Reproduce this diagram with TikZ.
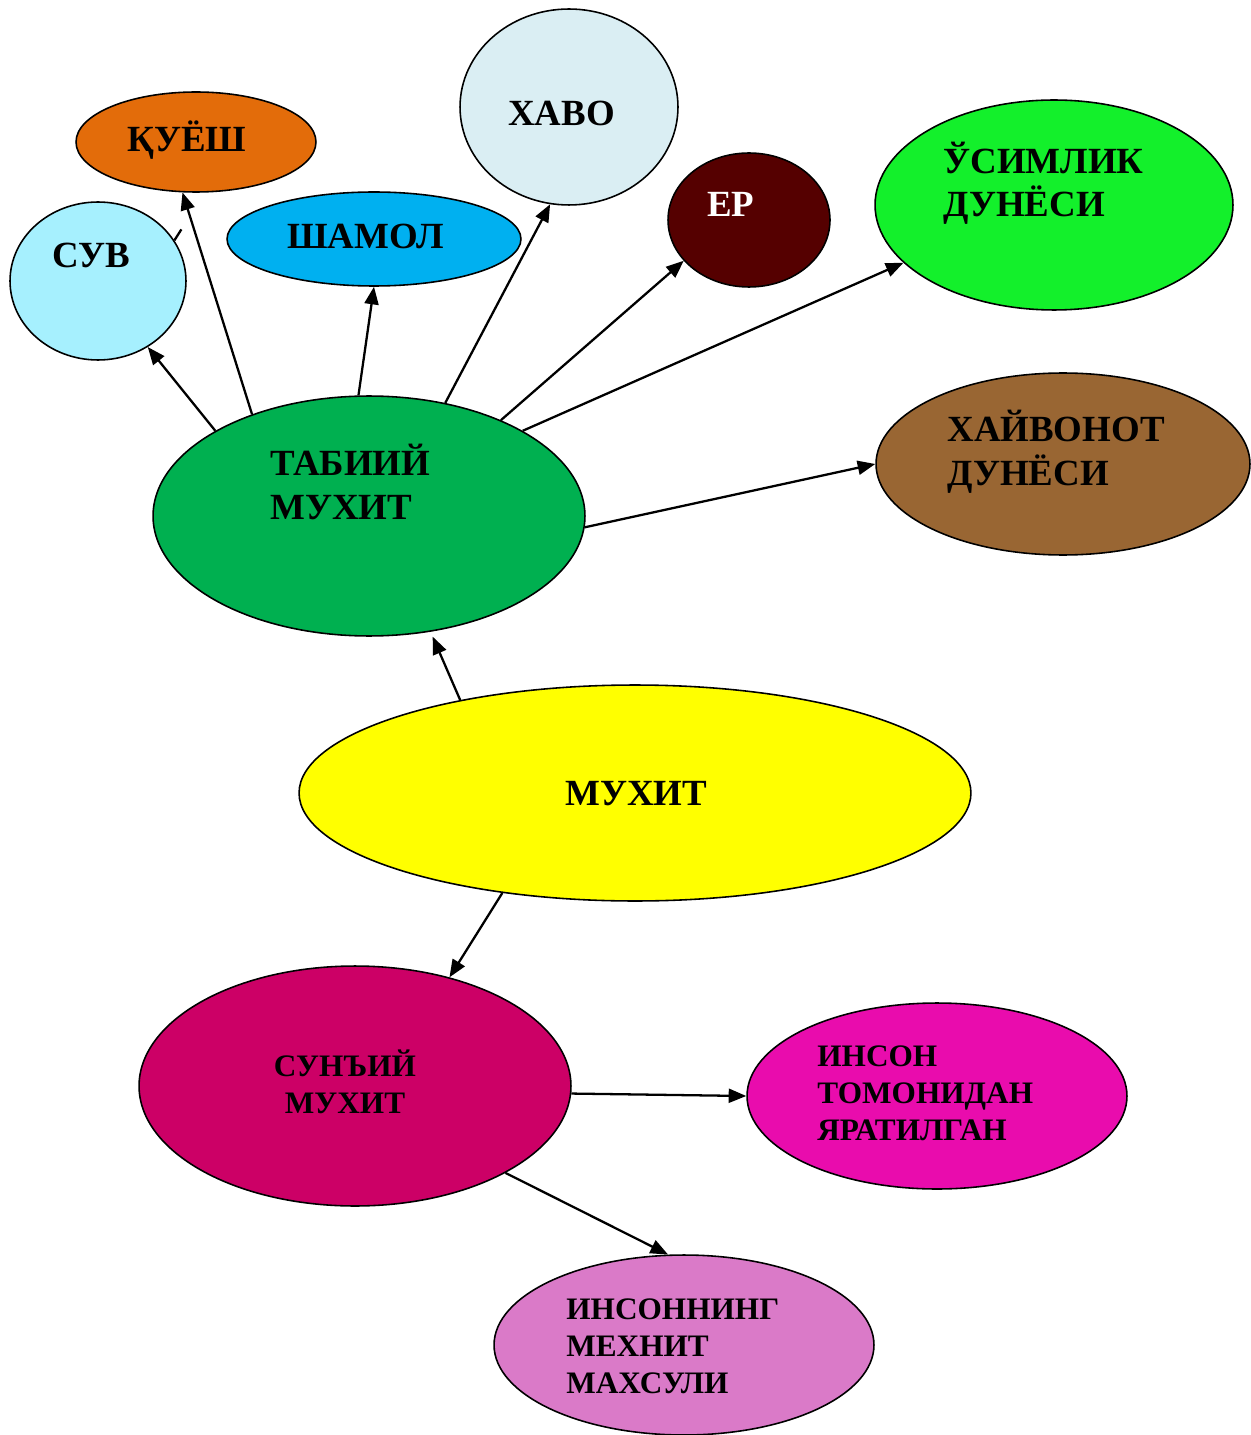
\documentclass[tikz,border=0pt]{standalone}
\usepackage{fontspec}
\setmainfont{Liberation Serif}
\usepackage{xcolor}
\usetikzlibrary{arrows.meta,shapes.geometric,calc}
\definecolor{sunC}{RGB}{227,108,10}
\definecolor{waterC}{RGB}{166,240,254}
\definecolor{windC}{RGB}{0,176,240}
\definecolor{airC}{RGB}{218,238,243}
\definecolor{earthC}{RGB}{85,0,0}
\definecolor{plantC}{RGB}{19,240,43}
\definecolor{animalC}{RGB}{153,102,51}
\definecolor{natC}{RGB}{0,176,80}
\definecolor{envC}{RGB}{255,255,0}
\definecolor{artC}{RGB}{204,0,102}
\definecolor{humC}{RGB}{233,12,173}
\definecolor{workC}{RGB}{218,122,200}

\begin{document}
\begin{tikzpicture}[x=0.02cm,y=-0.02cm,>={Triangle[length=10pt,width=8pt]},
  blob/.style={ellipse,draw,line width=0.9pt,inner sep=0pt},
  big/.style={font=\bfseries\fontsize{21}{24.6}\selectfont,inner sep=0pt,align=left,anchor=base west},
  small/.style={font=\bfseries\fontsize{17.8}{21}\selectfont,inner sep=0pt,align=left,anchor=base west}]
\useasboundingbox (0,0) rectangle (1250,1435);
% ellipses
\node[blob,fill=sunC,minimum width=4.8cm,minimum height=2cm] (sun) at (196,142) {};
\node[blob,fill=waterC,minimum width=3.52cm,minimum height=3.16cm] (suv) at (98,281) {};
\node[blob,fill=windC,minimum width=5.88cm,minimum height=1.88cm] (wind) at (374,239) {};
\node[blob,fill=airC,minimum width=4.36cm,minimum height=3.92cm] (air) at (569,107) {};
\node[blob,fill=earthC,minimum width=3.24cm,minimum height=2.68cm] (earth) at (749,220) {};
\node[blob,fill=plantC,minimum width=7.16cm,minimum height=4.2cm] (plant) at (1054,205) {};
\node[blob,fill=animalC,minimum width=7.48cm,minimum height=3.64cm] (animal) at (1063,464) {};
\node[blob,fill=natC,minimum width=8.64cm,minimum height=4.8cm] (nat) at (369,516) {};
\node[blob,fill=envC,minimum width=13.44cm,minimum height=4.32cm] (env) at (635,793) {};
\node[blob,fill=artC,minimum width=8.64cm,minimum height=4.8cm] (art) at (355,1086) {};
\node[blob,fill=humC,minimum width=7.6cm,minimum height=3.72cm] (hum) at (937,1096) {};
\node[blob,fill=workC,minimum width=7.6cm,minimum height=3.6cm] (work) at (684,1345) {};
% texts (multi-line ones sit on their last baseline)
\node[big] (sunT) at (127,152) {ҚУЁШ};
\node[big] (suvT) at (52,268) {СУВ};
\node[big] (windT) at (287,249) {ШАМОЛ};
\node[big] (airT) at (508,126) {ХАВО};
\node[big,text=white] (earthT) at (707,217) {ЕР};
\node[big] (plantT) at (943,217) {ЎСИМЛИК\\ДУНЁСИ};
\node[big] (animalT) at (947,485) {ХАЙВОНОТ\\ДУНЁСИ};
\node[big] (natT) at (270,519) {ТАБИИЙ\\МУХИТ};
\node[big] (envT) at (565,805) {МУХИТ};
\node[small,align=center,anchor=base] (artT) at (345,1113) {СУНЪИЙ\\МУХИТ};
\node[small] (humT) at (817,1140) {ИНСОН\\ТОМОНИДАН\\ЯРАТИЛГАН};
\node[small] (workT) at (566,1393) {ИНСОННИНГ\\МЕХНИТ\\МАХСУЛИ};
% arrows
\foreach \a/\b in {nat.151/suv.-53,nat.139/sun.-105,nat.95/wind.-90,nat.56/air.-101,
                   nat.36/earth.212,nat.29/plant.201,nat.-3/animal.180,
                   env.217/art.49,art.-2/hum.180,art.-30/work.100}
  \draw[->,line width=1.3pt] (\a) -- (\b);
\draw[->,line width=1.3pt,shorten >=3pt] (env.152) -- (nat.-62);
\draw[line width=1.3pt] (suv.28) -- +(7,-11);
\end{tikzpicture}
\end{document}
